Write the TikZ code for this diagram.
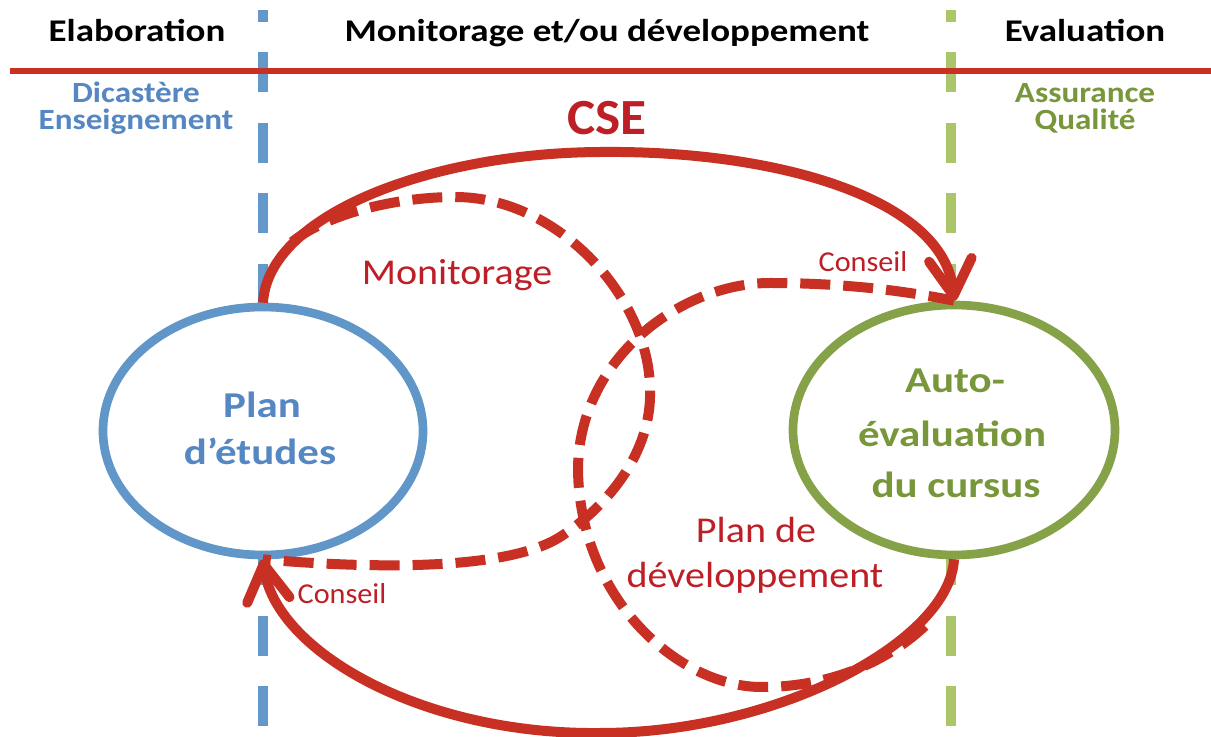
\documentclass[tikz,border=0pt]{standalone}
\usepackage{fontspec}
\setmainfont{Carlito}
\usetikzlibrary{arrows.meta,shapes.geometric}
\definecolor{cred}{RGB}{201,48,36}
\definecolor{tred}{RGB}{190,30,38}
\definecolor{cblue}{RGB}{96,150,200}
\definecolor{tblue}{RGB}{85,135,195}
\definecolor{vblue}{RGB}{100,152,203}
\definecolor{cgreen}{RGB}{134,162,72}
\definecolor{tgreen}{RGB}{120,150,58}
\definecolor{vgreen}{RGB}{171,197,106}
\begin{document}
\begin{tikzpicture}[x=0.75pt,y=-0.75pt,
  hdr/.style={font=\fontsize{23.7}{28}\selectfont\bfseries, anchor=base, inner sep=0pt, xscale=1.17},
  sub/.style={font=\fontsize{22}{26}\selectfont\bfseries, anchor=base, inner sep=0pt, xscale=1.13},
  big/.style={font=\fontsize{27.3}{32}\selectfont\bfseries, anchor=base, inner sep=0pt, xscale=1.18},
  lbl/.style={font=\fontsize{27.3}{32}\selectfont, anchor=base, inner sep=0pt, tred, xscale=1.1},
  small/.style={font=\fontsize{21.6}{26}\selectfont, anchor=base, inner sep=0pt, tred, xscale=1.05},
  vline/.style={line width=7.5pt, dash pattern=on 30pt off 22.8pt, dash phase=21pt},
  ell/.style={ellipse, fill=white, line width=6.5pt, inner sep=0pt},
  conn/.style={cred, line width=7.5pt, -{Straight Barb[length=27pt,width=32pt,round]}},
  dconn/.style={cred, line width=7.5pt, dash pattern=on 22.5pt off 9.75pt}]
\useasboundingbox (0,0) rectangle (1211,737);
\fill[white] (0,0) rectangle (1211,737);
% vertical separators
\draw[vline, vblue] (263,10) -- (263,737);
\draw[vline, vgreen] (951,10) -- (951,737);
% ellipses
\node[ell, draw=cblue, minimum width=240pt, minimum height=186pt] (pe) at (263,431) {};
\node[ell, draw=cgreen, minimum width=241.5pt, minimum height=187.5pt] (ae) at (954,430) {};
% header rule
\draw[cred, line width=4.5pt] (10,71) -- (1211,71);
% coordinates where dashed loops leave the solid arcs
\coordinate (m0) at (292,242);
\coordinate (d0) at (925,626);
% dashed loops
\draw[dconn] (m0) .. controls (330,212) and (400,197) .. (455,197)
  .. controls (560,197) and (650,300) .. (650,390)
  .. controls (652,450) and (610,505) .. (560,537)
  .. controls (500,575) and (340,566) .. (pe.south);
\draw[dconn] (d0) .. controls (880,668) and (820,687) .. (763,687)
  .. controls (680,688) and (580,600) .. (578,470)
  .. controls (578,360) and (680,283) .. (770,283)
  .. controls (850,283) and (910,292) .. (ae.north);
% solid arcs
\draw[conn] (pe.north) .. controls (268,215) and (430,153) .. (600,152)
  .. controls (780,150) and (945,200) .. (ae.north);
\draw[conn] (ae.south) .. controls (950,640) and (780,733) .. (600,733)
  .. controls (420,735) and (275,650) .. (pe.south);
% texts
\node[hdr] (h1) at (137,42) {Elaboration};
\node[hdr] (h2) at (607,42) {Monitorage et/ou développement};
\node[hdr] (h3) at (1085,42) {Evaluation};
\node[sub, tblue] (d1) at (136,103) {Dicastère};
\node[sub, tblue] (d2) at (136,130) {Enseignement};
\node[sub, tgreen] (q1) at (1085,103) {Assurance};
\node[sub, tgreen] (q2) at (1085,130) {Qualité};
\node[font=\fontsize{38}{44}\selectfont\bfseries, anchor=base, inner sep=0pt, tred, xscale=1.05] (cse) at (607,135) {CSE};
\node[lbl] (mon) at (457,285) {Monitorage};
\node[small] (c1) at (863,272) {Conseil};
\node[small] (c2) at (342,604) {Conseil};
\node[lbl] (pd1) at (756,543) {Plan de};
\node[lbl] (pd2) at (755,588) {développement};
\node[big, tblue] (p1) at (262,418) {Plan};
\node[big, tblue] (p2) at (260,465) {d’études};
\node[big, tgreen] (a1) at (955,393) {Auto-};
\node[big, tgreen] (a2) at (952,447) {évaluation};
\node[big, tgreen] (a3) at (956,498) {du cursus};
\end{tikzpicture}
\end{document}
